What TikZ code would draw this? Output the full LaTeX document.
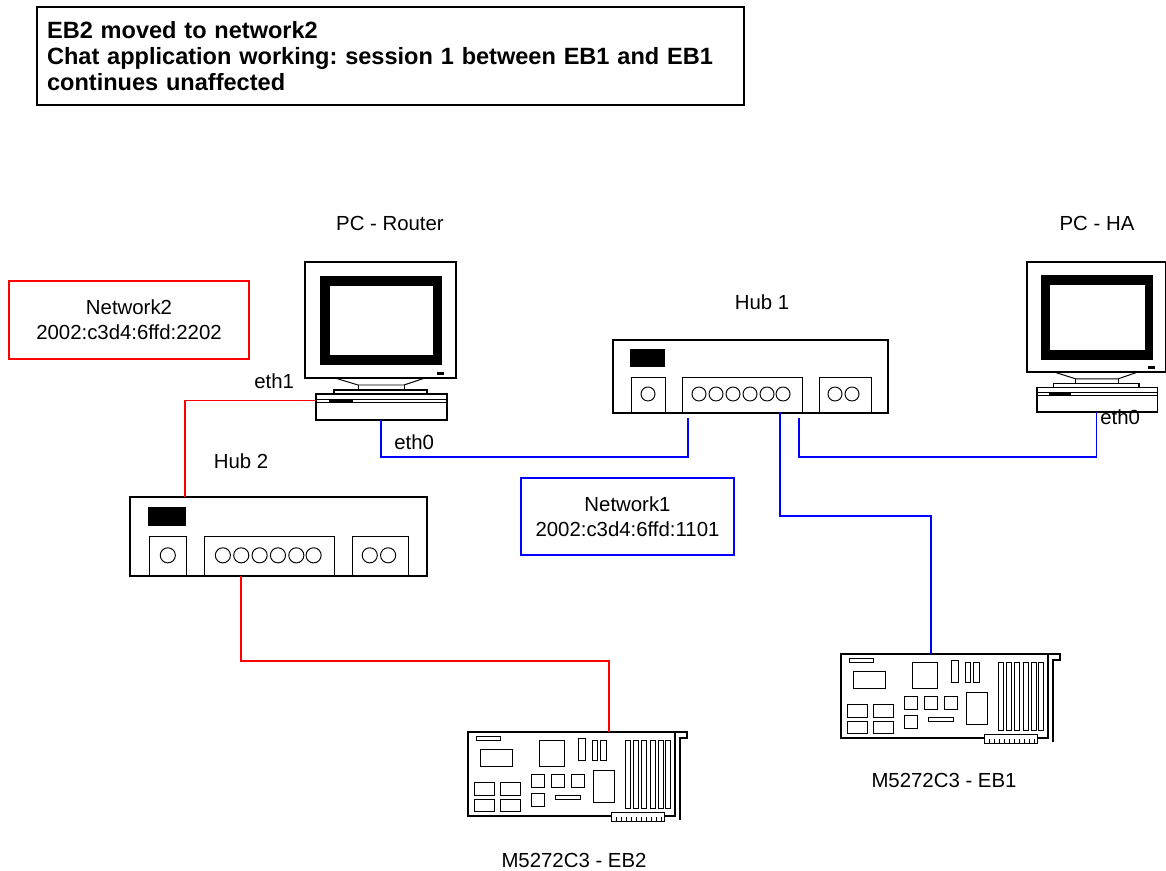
\documentclass[tikz,border=0pt]{standalone}
\usepackage{fontspec}
\setmainfont{Liberation Sans}
\usetikzlibrary{positioning}
\frenchspacing

\newcommand{\normaltext}{\fontsize{11.6pt}{14.2pt}\selectfont}
\newcommand{\titletext}{\fontsize{13.4pt}{14.8pt}\selectfont\bfseries}

\tikzstyle{devline} = [draw=black, line width=0.9pt]
\tikzstyle{thinline} = [draw=black, line width=0.55pt]
\tikzstyle{netbox} = [rectangle, line width=0.9pt, minimum height=1.55cm, text centered, align=center, font=\normaltext]
\tikzstyle{net1} = [draw=blue, line width=0.6pt]
\tikzstyle{net2} = [draw=red, line width=0.6pt]
\tikzstyle{devname} = [anchor=base, inner sep=0pt, font=\normaltext]

\tikzset{
  pics/computer/.style={code={
    % monitor
    \draw[devline] (0,0) rectangle (151,116);
    \fill (15,14) rectangle (137,103);
    \fill[white] (25,24) rectangle (128,93);
    \fill (132,110) rectangle (139,113);
    % stand
    \draw[thinline] (30,116) -- (53,123) -- (99,123) -- (120,116);
    \draw[thinline] (53,123) -- (53,128) (99,123) -- (99,128);
    \draw[devline] (29,128) rectangle (122,132);
    % case
    \draw[devline] (11,132) rectangle (142,158);
    \draw[thinline] (11,137) -- (142,137) (11,140) -- (142,140);
    \fill (24,137) rectangle (48,141);
    \coordinate (-side) at (11,138.5);
    \coordinate (-base) at (76,158);
  }},
  pics/hub/.style={code={
    \draw[devline] (0,0) rectangle (275,73);
    \fill (17,9) rectangle (52,27);
    \draw[thinline] (18,37) rectangle (52,73);
    \draw[thinline] (35,54) circle (0.14cm);
    \draw[thinline] (69,37) rectangle (189,73);
    \foreach \px in {86,103,120,137,154,170}
      \draw[thinline] (\px,54) circle (0.14cm);
    \draw[thinline] (206,37) rectangle (258,73);
    \draw[thinline] (222,54) circle (0.14cm) (239,54) circle (0.14cm);
  }},
  pics/board/.style={code={
    \draw[devline] (0,0) rectangle (207,84);
    \draw[devline] (207,0) -- (219,0) -- (219,6) -- (212,6) -- (212,88);
    % chips
    \draw[thinline] (8,4) rectangle (32,8);
    \draw[thinline] (12,17) rectangle (44,34);
    \draw[thinline] (71,8) rectangle (96,34);
    \draw[thinline] (110,6) rectangle (117,28);
    \draw[thinline] (124,8) rectangle (129,28);
    \draw[thinline] (132,8) rectangle (138,28);
    \draw[thinline] (63,42) rectangle (76,55);
    \draw[thinline] (83,42) rectangle (96,55);
    \draw[thinline] (103,42) rectangle (116,55);
    \draw[thinline] (63,61) rectangle (76,74);
    \draw[thinline] (87,63) rectangle (112,67);
    \draw[thinline] (125,38) rectangle (146,70);
    \draw[thinline] (6,50) rectangle (26,63);
    \draw[thinline] (32,50) rectangle (52,63);
    \draw[thinline] (6,67) rectangle (26,79);
    \draw[thinline] (32,67) rectangle (52,79);
    % slots
    \foreach \sx in {157,165,173,182,190,197}
      \draw[thinline] (\sx,8) rectangle (\sx+5,76);
    % edge connector
    \draw[thinline, fill=white] (143,80) rectangle (196,89);
    \foreach \tx in {148,153,...,193}
      \draw[thinline] (\tx,89) -- (\tx,85);
  }},
}

\begin{document}
\begin{tikzpicture}[x=0.02cm, y=-0.02cm]
  \useasboundingbox (0,0) rectangle (1166,871);

  \node (title) [draw=black, line width=0.9pt, minimum width=14.14cm, minimum height=1.96cm, text width=13.74cm, inner xsep=0.2cm, align=left, font=\titletext] at (390.5,56) {EB2 moved to network2\\Chat application working: session 1 between EB1 and EB1\\continues unaffected};

  \node (net2box) [netbox, draw=red, minimum width=4.8cm] at (129,320) {Network2\\2002:c3d4:6ffd:2202};
  \node (net1box) [netbox, draw=blue, minimum width=4.26cm] at (627.5,516.5) {Network1\\2002:c3d4:6ffd:1101};

  \pic (router) at (305,262) {computer};
  \pic (ha) [xscale=0.92, yscale=0.95] at (1027,262) {computer};
  \pic (hub1) at (613,340) {hub};
  \pic (hub2) [scale=1.08] at (130,497) {hub};
  \pic (eb1) at (841,654) {board};
  \pic (eb2) at (468,732) {board};

  \node (routername) [devname] at (390,231) {PC - Router};
  \node (haname) [devname] at (1097,231) {PC - HA};
  \node (hub1name) [devname] at (762,310) {Hub 1};
  \node (hub2name) [devname] at (241,468) {Hub 2};
  \node (eb1name) [devname] at (944,787) {M5272C3 - EB1};
  \node (eb2name) [devname] at (574,867) {M5272C3 - EB2};
  \node (eth1) [devname, anchor=base west] at (254,389) {eth1};
  \node (eth0r) [devname, anchor=base west] at (394,449) {eth0};
  \node (eth0h) [devname, anchor=base west] at (1100,424) {eth0};

  % ports
  \coordinate (h1a) at (688,418);
  \coordinate (h1b) at (780,412);
  \coordinate (h1c) at (799,418);
  \coordinate (h2in) at (185,497);
  \coordinate (h2out) at (241,576);
  \coordinate (eb1in) at (931,654);
  \coordinate (eb2in) at (609,732);

  % network1
  \draw[net1] (router-base) -- ++(0,37) -| (h1a);
  \draw[net1] (h1c) -- ++(0,39) -| (ha-base);
  \draw[net1] (h1b) -- ++(0,104) -| (eb1in);

  % network2
  \draw[net2] (router-side) -| (h2in);
  \draw[net2] (h2out) -- ++(0,85) -| (eb2in);
\end{tikzpicture}
\end{document}
